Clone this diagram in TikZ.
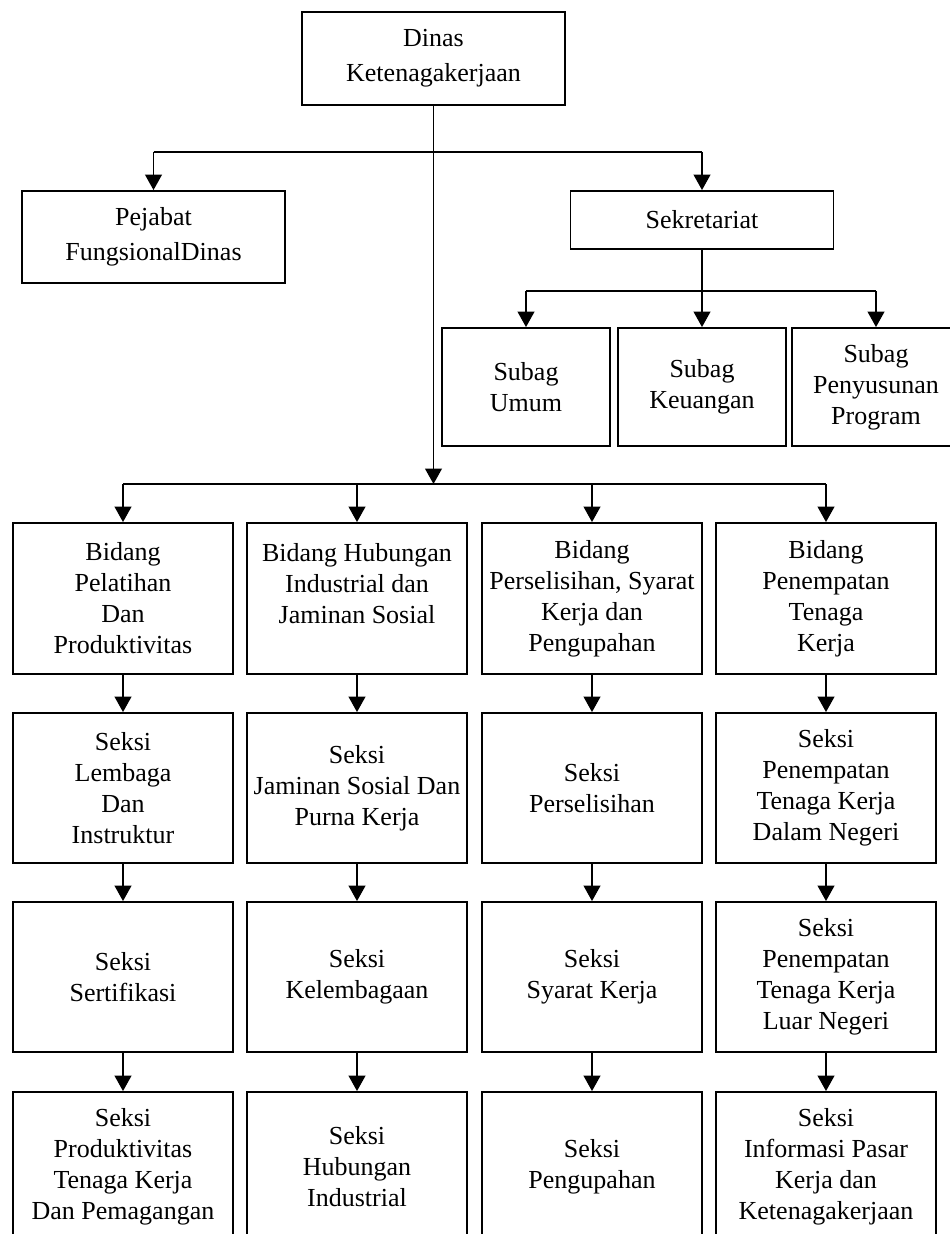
\documentclass[tikz,border=0pt]{standalone}
\usepackage{fontspec}
\setmainfont{Liberation Serif}
\usetikzlibrary{
    arrows.meta,
    positioning
}
\tikzset{
    unit/.style={draw, line width=1.4pt, align=center, inner sep=1pt,
        font=\fontsize{19.5}{23.25}\selectfont},
    topunit/.style={unit, minimum width=197.25pt,
        font=\fontsize{19.5}{26.25}\selectfont},
    subag/.style={unit, minimum width=126pt, minimum height=88.5pt},
    seksi/.style={unit, minimum width=165pt, minimum height=112.5pt},
    link/.style={line width=1.2pt}
}

\begin{document}
\begin{tikzpicture}[x=0.75pt, y=-0.75pt, >={Triangle[length=11.5pt, width=12.5pt]}]
    \useasboundingbox (0, 0) rectangle (949, 1234);

    % pimpinan dan sekretariat
    \node[topunit, minimum height=69.75pt] (dinas) at (433.5, 58.5) {Dinas\\Ketenagakerjaan};
    \node[topunit, minimum height=69pt] (pejabat) at (153.5, 237) {Pejabat\\FungsionalDinas};
    \node[topunit, minimum height=43.5pt] (sekret) at (702, 220) {Sekretariat};

    \node[subag] (umum) at (526, 387) {Subag\\Umum};
    \node[subag] (keuangan) at (702, 387) {Subag\\Keuangan};
    \node[subag] (program) at (876, 387) {Subag\\Penyusunan\\Program};

    % bidang
    \node[seksi, minimum height=113.25pt] (b1) at (123, 598.5) {Bidang\\Pelatihan\\Dan\\Produktivitas};
    \node[seksi, minimum height=113.25pt] (b2) at (357, 598.5) {Bidang Hubungan\\Industrial dan\\Jaminan Sosial\\~};
    \node[seksi, minimum height=113.25pt] (b3) at (592, 598.5) {Bidang\\Perselisihan, Syarat\\Kerja dan\\Pengupahan};
    \node[seksi, minimum height=113.25pt] (b4) at (826, 598.5) {Bidang\\Penempatan\\Tenaga\\Kerja};

    % seksi
    \node[seksi] (s11) at (123, 788) {Seksi\\Lembaga\\Dan\\Instruktur};
    \node[seksi] (s21) at (357, 788) {Seksi\\Jaminan Sosial Dan\\Purna Kerja};
    \node[seksi] (s31) at (592, 788) {Seksi\\Perselisihan};
    \node[seksi] (s41) at (826, 788) {Seksi\\Penempatan\\Tenaga Kerja\\Dalam Negeri};

    \node[seksi] (s12) at (123, 977) {Seksi\\Sertifikasi};
    \node[seksi] (s22) at (357, 977) {Seksi\\Kelembagaan};
    \node[seksi] (s32) at (592, 977) {Seksi\\Syarat Kerja};
    \node[seksi] (s42) at (826, 977) {Seksi\\Penempatan\\Tenaga Kerja\\Luar Negeri};

    \node[seksi] (s13) at (123, 1167) {Seksi\\Produktivitas\\Tenaga Kerja\\Dan Pemagangan};
    \node[seksi] (s23) at (357, 1167) {Seksi\\Hubungan\\Industrial};
    \node[seksi] (s33) at (592, 1167) {Seksi\\Pengupahan};
    \node[seksi] (s43) at (826, 1167) {Seksi\\Informasi Pasar\\Kerja dan\\Ketenagakerjaan};

    % titik cabang
    \coordinate (hubA) at (433.5, 484);
    \coordinate (cabA1) at (153.5, 152);
    \coordinate (cabA2) at (702, 152);
    \coordinate (cabS1) at (526, 291);
    \coordinate (cabS2) at (702, 291);
    \coordinate (cabS3) at (876, 291);
    \coordinate (cabB1) at (123, 484);
    \coordinate (cabB4) at (826, 484);

    \draw[link]
    (dinas) edge[->] (hubA)
    (cabA1) -- (cabA2)
    (cabA1) edge[->] (pejabat)
    (cabA2) edge[->] (sekret)
    (sekret) -- (cabS2)
    (cabS1) -- (cabS3)
    (cabS1) edge[->] (umum)
    (cabS2) edge[->] (keuangan)
    (cabS3) edge[->] (program)
    (cabB1) -- (cabB4);

    \foreach \x in {1, 2, 3, 4} {
        \draw[link, ->] (b\x.north |- hubA) -- (b\x);
        \draw[link, ->] (b\x) -- (s\x1);
        \draw[link, ->] (s\x1) -- (s\x2);
        \draw[link, ->] (s\x2) -- (s\x3);
    }
\end{tikzpicture}
\end{document}
